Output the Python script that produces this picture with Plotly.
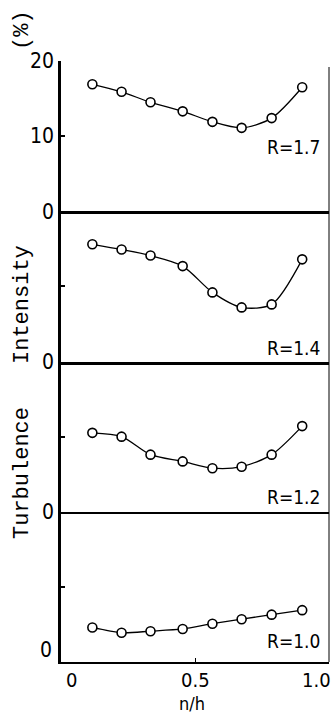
import plotly.graph_objects as go
from plotly.subplots import make_subplots

# ---- data ----
x_pos = [0.117, 0.226, 0.334, 0.454, 0.565, 0.674, 0.786, 0.900]
series_names = ["R=1.7", "R=1.4", "R=1.2", "R=1.0"]
r17 = [16.9, 15.9, 14.5, 13.3, 11.9, 11.1, 12.4, 16.5]
r14 = [15.6, 14.9, 14.1, 12.7, 9.2, 7.2, 7.6, 13.6]
r12 = [10.5, 10.0, 7.6, 6.7, 5.8, 6.0, 7.6, 11.4]
r10 = [4.6, 3.9, 4.1, 4.4, 5.1, 5.7, 6.3, 6.9]
series = [r17, r14, r12, r10]
label_pos = [(0.866, 8.5), (0.866, 1.8), (0.866, 1.9), (0.866, 2.8)]
x_ticks = [0, 0.5, 1.0]
x_ticktext = ["0", "0.5", "1.0"]

W, H = 331, 715
L, R, T, B = 61, 2, 61, 53
PW, PH = W - L - R, H - T - B

def px_x(px):
    return (px - L) / PW

def px_y(py):
    return (H - B - py) / PH

FONT = "DejaVu Sans Condensed, Liberation Sans Narrow, Liberation Mono, monospace"

fig = make_subplots(rows=4, cols=1, shared_xaxes=True, vertical_spacing=0)

for i, (ys, name) in enumerate(zip(series, series_names)):
    row = i + 1
    fig.add_trace(go.Scatter(
        x=x_pos, y=ys, mode="lines+markers", name=name,
        line=dict(color="black", width=1.3, shape="spline", smoothing=0.8),
        marker=dict(symbol="circle", size=9, color="white",
                    line=dict(color="black", width=1.6)),
        showlegend=False), row=row, col=1)
    if row == 1:
        tv, tt = [0, 10, 20], ["0", "10", "20"]
    elif row == 4:
        tv, tt = [0, 10], ["", ""]
    else:
        tv, tt = [0, 10], ["0", ""]
    fig.update_yaxes(range=[0, 20], tickvals=tv, ticktext=tt, ticks="inside",
                     ticklen=4, tickwidth=1.5, tickcolor="black",
                     showline=True, linecolor="black", linewidth=2.5,
                     showgrid=False, zeroline=False,
                     tickfont=dict(family=FONT, size=21, color="black"),
                     row=row, col=1)
    lw = {1: 3, 2: 3, 3: 1.5, 4: 2}[row]
    fig.update_xaxes(range=[0, 1], showline=True, linecolor="black", linewidth=lw,
                     showgrid=False, zeroline=False, showticklabels=False,
                     ticks="inside" if row == 4 else "", tickvals=[0.5],
                     ticklen=4, tickcolor="black", row=row, col=1)
    lx, ly = label_pos[i]
    yref = "y" if row == 1 else f"y{row}"
    fig.add_annotation(x=lx, y=ly, xref="x" if row == 1 else f"x{row}", yref=yref,
                       text=name, showarrow=False,
                       font=dict(family=FONT, size=19, color="black"))

# bottom panel 0 label (sits above the axis line in the reference)
fig.add_annotation(x=0, y=0, xref="paper", yref="paper", text="0", showarrow=False,
                   xanchor="right", yanchor="bottom", xshift=-7, yshift=-2,
                   font=dict(family=FONT, size=21, color="black"))

# x tick labels
shifts = [10, 0, -13]
for v, t, s in zip(x_ticks, x_ticktext, shifts):
    fig.add_annotation(x=v, y=0, xref="x4", yref="paper", text=t, showarrow=False,
                       xshift=s, yshift=-18, yanchor="middle",
                       font=dict(family=FONT, size=20, color="black"))
fig.add_annotation(x=0.5, y=0, xref="x4", yref="paper", text="n/h", showarrow=False,
                   xshift=-3, yshift=-41, yanchor="middle",
                   font=dict(family=FONT, size=18, color="black"))

# y title parts
for txt, py in [("(%)", 30), ("Intensity", 305), ("Turbulence", 473)]:
    fig.add_annotation(x=px_x(22), y=px_y(py), xref="paper", yref="paper", text=txt,
                       textangle=-90, showarrow=False, xanchor="center", yanchor="middle",
                       font=dict(family="Liberation Mono, monospace", size=22, color="black"))

# right border
fig.add_shape(type="line", xref="paper", yref="paper", x0=1, x1=1, y0=0, y1=px_y(67),
              line=dict(color="black", width=1))

fig.update_layout(width=W, height=H, margin=dict(l=L, r=R, t=T, b=B),
                  paper_bgcolor="white", plot_bgcolor="white")
fig.write_html("out.html")
